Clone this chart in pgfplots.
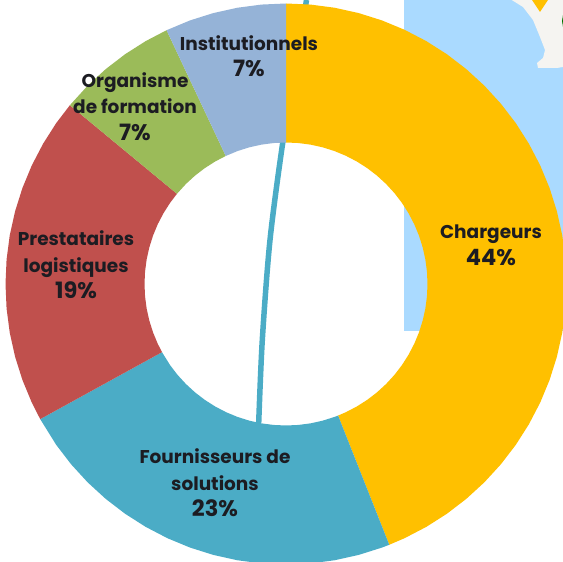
\documentclass[border=0pt]{standalone}
\usepackage{fontspec}
\setmainfont{Poppins}
\usepackage{pgfplots}
\pgfplotsset{compat=1.18}
\definecolor{cCharg}{HTML}{FFC000}
\definecolor{cFourn}{HTML}{4BACC6}
\definecolor{cPrest}{HTML}{C0504D}
\definecolor{cOrga}{HTML}{9BBB59}
\definecolor{cInst}{HTML}{95B3D7}
\definecolor{cSea}{HTML}{AADAFF}
\definecolor{cLand}{HTML}{F5F4F1}
\definecolor{cTxt}{HTML}{1C1C22}
\newcommand{\pct}[1]{{\fontsize{22.5}{26.5}\selectfont #1\%}}
\begin{document}
\begin{tikzpicture}[lab/.style={font=\fontsize{18.5}{26.5}\selectfont\bfseries,text=cTxt,align=center,inner sep=0pt,anchor=center}]
\begin{axis}[
  scale only axis,width=563pt,height=562pt,
  xmin=-286,xmax=277,ymin=-278,ymax=284,
  hide axis,clip=true,
]
% map background
\addplot[fill=cSea,draw=none] coordinates {(118,284)(277,284)(277,-47)(118,-47)};
\addplot[fill=cLand,draw=none] coordinates {(225.7,284)(237,277)(247,264)(254,247)(259,234)(257,226)(251,221)(252,216)(271,216)(277,217)(277,284)};
\addplot[fill=cCharg,draw=none] coordinates {(246,284)(254,272)(262,284)};
\addplot[fill=green!45!black,draw=none] coordinates {(277,269)(276,263)(277,257)};
% line behind the ring
\addplot[cFourn,line width=5.5pt,smooth] coordinates {(20.5,284)(9,214)(-3.3,141)(-16,44)(-23.7,-56)(-27.3,-139)};
% ring
\addplot[data cs=polar,fill=cCharg,draw=none] coordinates {
(90,280.5)(85,280.5)(80,280.5)(75,280.5)(70,280.5)(65,280.5)(60,280.5)(55,280.5)(50,280.5)(45,280.5)(40,280.5)(35,280.5)(30,280.5)(25,280.5)(20,280.5)(15,280.5)(10,280.5)(5,280.5)(0,280.5)(-5,280.5)(-10,280.5)(-15,280.5)(-20,280.5)(-25,280.5)(-30,280.5)(-35,280.5)(-40,280.5)(-45,280.5)(-50,280.5)(-55,280.5)(-60,280.5)(-65,280.5)(-68.4,280.5)
(-68.4,141.5)(-65,141.5)(-60,141.5)(-55,141.5)(-50,141.5)(-45,141.5)(-40,141.5)(-35,141.5)(-30,141.5)(-25,141.5)(-20,141.5)(-15,141.5)(-10,141.5)(-5,141.5)(0,141.5)(5,141.5)(10,141.5)(15,141.5)(20,141.5)(25,141.5)(30,141.5)(35,141.5)(40,141.5)(45,141.5)(50,141.5)(55,141.5)(60,141.5)(65,141.5)(70,141.5)(75,141.5)(80,141.5)(85,141.5)(90,141.5)};
\addplot[data cs=polar,fill=cFourn,draw=none] coordinates {
(-68.4,280.5)(-70,280.5)(-75,280.5)(-80,280.5)(-85,280.5)(-90,280.5)(-95,280.5)(-100,280.5)(-105,280.5)(-110,280.5)(-115,280.5)(-120,280.5)(-125,280.5)(-130,280.5)(-135,280.5)(-140,280.5)(-145,280.5)(-151.2,280.5)
(-151.2,141.5)(-145,141.5)(-140,141.5)(-135,141.5)(-130,141.5)(-125,141.5)(-120,141.5)(-115,141.5)(-110,141.5)(-105,141.5)(-100,141.5)(-95,141.5)(-90,141.5)(-85,141.5)(-80,141.5)(-75,141.5)(-70,141.5)(-68.4,141.5)};
\addplot[data cs=polar,fill=cPrest,draw=none] coordinates {
(-151.2,280.5)(-155,280.5)(-160,280.5)(-165,280.5)(-170,280.5)(-175,280.5)(-180,280.5)(-185,280.5)(-190,280.5)(-195,280.5)(-200,280.5)(-205,280.5)(-210,280.5)(-215,280.5)(-219.6,280.5)
(-219.6,141.5)(-215,141.5)(-210,141.5)(-205,141.5)(-200,141.5)(-195,141.5)(-190,141.5)(-185,141.5)(-180,141.5)(-175,141.5)(-170,141.5)(-165,141.5)(-160,141.5)(-155,141.5)(-151.2,141.5)};
\addplot[data cs=polar,fill=cOrga,draw=none] coordinates {
(-219.6,280.5)(-225,280.5)(-230,280.5)(-235,280.5)(-240,280.5)(-244.8,280.5)
(-244.8,141.5)(-240,141.5)(-235,141.5)(-230,141.5)(-225,141.5)(-219.6,141.5)};
\addplot[data cs=polar,fill=cInst,draw=none] coordinates {
(-244.8,280.5)(-250,280.5)(-255,280.5)(-260,280.5)(-265,280.5)(-270,280.5)
(-270,141.5)(-265,141.5)(-260,141.5)(-255,141.5)(-250,141.5)(-244.8,141.5)};
% labels
\node[lab] at (axis cs:205,38.5) {Chargeurs\\\pct{44}};
\node[lab] at (axis cs:-71,-199) {Fournisseurs de\\solutions\\\pct{23}};
\node[lab] at (axis cs:-210,19) {Prestataires\\logistiques\\\pct{19}};
\node[lab] at (axis cs:-151,177.5) {Organisme\\de formation\\\pct{7}};
\node[lab] at (axis cs:-37,228) {Institutionnels\\\pct{7}};
\path (rel axis cs:0,0) rectangle (rel axis cs:1,1);
\end{axis}
\end{tikzpicture}
\end{document}
